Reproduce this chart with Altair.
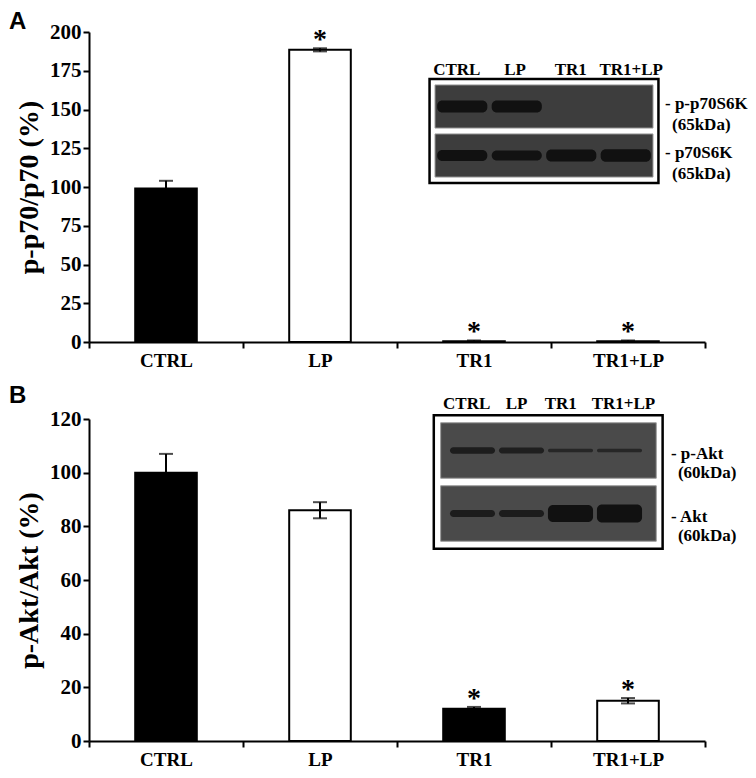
import altair as alt
import pandas as pd

SERIF = "Liberation Serif"
SANS = "Liberation Sans"

groups = ["CTRL", "LP", "TR1", "TR1+LP"]
bar_fill = ["black", "white", "black", "white"]

# Panel A: p-p70/p70 (%)
a_values = [99, 188.5, 0.5, 0.5]
a_errors = [5, 1, 0.5, 0.5]
a_star = [False, True, True, True]

# Panel B: p-Akt/Akt (%)
b_values = [100, 86, 12, 15]
b_errors = [7, 3, 0.7, 1]
b_star = [False, False, True, True]

# Western blot insets: relative band strength per lane
a_blot_rows = ["- p-p70S6K", "- p70S6K"]
a_blot_kda = ["(65kDa)", "(65kDa)"]
a_blot_phos = [1.0, 1.0, 0.0, 0.0]
a_blot_total = [0.9, 0.85, 1.0, 1.05]

b_blot_rows = ["- p-Akt", "- Akt"]
b_blot_kda = ["(60kDa)", "(60kDa)"]
b_blot_phos = [0.55, 0.5, 0.3, 0.3]
b_blot_total = [0.6, 0.6, 1.4, 1.5]


def inset_layers(rows, kda, phos, total, geo):
    xs = alt.Scale(domain=[-0.5, 3.5], range=geo["x_range"], nice=False, zero=False)
    ys = alt.Scale(domain=[0, 2], range=geo["y_range"], nice=False, zero=False)
    u = (geo["y_range"][1] - geo["y_range"][0]) / 2.0

    one = pd.DataFrame({"k": [0]})
    frame = alt.Chart(one).mark_rect(fill="white", stroke="black", strokeWidth=2.5).encode(
        x=alt.XDatum(geo["frame_x"][0], type="quantitative", scale=xs, axis=None),
        x2=alt.X2Datum(geo["frame_x"][1]),
        y=alt.YDatum(-0.06, type="quantitative", scale=ys, axis=None),
        y2=alt.Y2Datum(2.06),
    )

    rdf = pd.DataFrame({"r": [0, 1], "name": rows, "kda": kda})
    gels = alt.Chart(rdf).transform_calculate(
        g0="datum.r + 0.06", g1="datum.r + 0.94"
    ).mark_rect(fill=geo["gel"], stroke="#9a9a9a", strokeWidth=1).encode(
        x=alt.XDatum(geo["gel_x"][0], type="quantitative"),
        x2=alt.X2Datum(geo["gel_x"][1]),
        y=alt.Y("g0:Q"),
        y2="g1:Q",
    )

    bdf = pd.DataFrame({
        "lane": [0, 1, 2, 3, 0, 1, 2, 3],
        "r": [0, 0, 0, 0, 1, 1, 1, 1],
        "s": phos + total,
    })
    k = 6.0 / u
    bands = alt.Chart(bdf).transform_filter("datum.s > 0").transform_calculate(
        xa="datum.lane - 0.46",
        xb="datum.lane + 0.46",
        ya=f"datum.r + 0.5 - datum.s * {k}",
        yb=f"datum.r + 0.5 + datum.s * {k}",
        op="min(1, 0.45 + 0.6 * datum.s)",
    ).mark_rect(fill="#111111", cornerRadius=5).encode(
        x="xa:Q", x2="xb:Q", y="ya:Q", y2="yb:Q",
        opacity=alt.Opacity("op:Q", scale=None, legend=None),
    )

    ldf = pd.DataFrame({"lane": [0, 1, 2, 3], "name": groups, "shift": geo["head_shift"]})
    header = alt.Chart(ldf).transform_calculate(hx="datum.lane + datum.shift").mark_text(
        font=SERIF, fontWeight="bold", fontSize=17, color="black", baseline="middle"
    ).encode(
        x="hx:Q",
        y=alt.YDatum(-0.24, type="quantitative"),
        text="name:N",
    )

    names = alt.Chart(rdf).transform_calculate(yy=f"datum.r + {geo['name_dy']}").mark_text(
        font=SERIF, fontWeight="bold", fontSize=17, color="black", align="left", baseline="middle"
    ).encode(
        x=alt.XDatum(geo["label_x"], type="quantitative"),
        y="yy:Q",
        text="name:N",
    )
    kdas = alt.Chart(rdf).transform_calculate(yy=f"datum.r + {geo['kda_dy']}").mark_text(
        font=SERIF, fontWeight="bold", fontSize=17, color="black", align="left", baseline="middle", dx=7
    ).encode(
        x=alt.XDatum(geo["label_x"], type="quantitative"),
        y="yy:Q",
        text="kda:N",
    )
    return alt.layer(frame, gels, bands, header, names, kdas)


def panel(letter, letter_y, ytitle, values, errors, stars, ymax, ystep, height,
          rows, kda, phos, total, geo):
    df = pd.DataFrame({"group": groups, "value": values, "err": errors, "star": stars})
    df["lo"] = df["value"] - df["err"]
    df["hi"] = df["value"] + df["err"]

    xaxis = alt.Axis(title=None, labelAngle=0, tickBand="extent")
    yaxis = alt.Axis(title=ytitle, values=list(range(0, ymax + 1, ystep)),
                     labelOverlap=False, tickCount=len(range(0, ymax + 1, ystep)))
    yscale = alt.Scale(domain=[0, ymax], nice=False)
    x = alt.X("group:N", sort=groups,
              scale=alt.Scale(domain=groups, paddingInner=0, paddingOuter=0), axis=xaxis)
    xo = alt.X("group:N", sort=groups, axis=xaxis)
    base = alt.Chart(df)
    bars = base.mark_bar(width=alt.RelativeBandSize(0.4), stroke="black", strokeWidth=2).encode(
        x=x, y=alt.Y("value:Q", scale=yscale, axis=yaxis),
        fill=alt.Fill("group:N", scale=alt.Scale(domain=groups, range=bar_fill), legend=None),
    )
    rule = base.mark_rule(color="black", strokeWidth=2).encode(
        x=xo, y=alt.Y("lo:Q", axis=yaxis), y2="hi:Q"
    )
    caps = base.transform_fold(["lo", "hi"], as_=["end", "yv"]).mark_tick(
        color="black", thickness=2, size=14
    ).encode(x=xo, y=alt.Y("yv:Q", axis=yaxis))
    star = base.transform_filter("datum.star").mark_text(
        text="*", font=SERIF, fontWeight="bold", fontSize=28, color="black", baseline="alphabetic"
    ).encode(x=xo, y=alt.Y("hi:Q", axis=yaxis))
    tag = alt.Chart(pd.DataFrame({"t": [letter]})).mark_text(
        font=SANS, fontSize=24, fontWeight="bold", color="black", align="left", baseline="top"
    ).encode(text="t:N", x=alt.value(-80), y=alt.value(letter_y))

    main = alt.layer(bars, rule, caps, star, tag)
    ins = inset_layers(rows, kda, phos, total, geo)
    return alt.layer(main, ins).resolve_scale(x="independent", y="independent").properties(
        width=616, height=height
    )


geo_a = {"x_range": [346, 564], "y_range": [50, 148], "gel_x": [-0.5, 3.5],
         "frame_x": [-0.6, 3.6], "label_x": 3.72, "gel": "#3d3d3d",
         "head_shift": [-0.1, -0.03, -0.01, 0.1], "name_dy": 0.45, "kda_dy": 0.88}
geo_b = {"x_range": [359, 555], "y_range": [0, 126], "gel_x": [-0.65, 3.75],
         "frame_x": [-0.79, 3.88], "label_x": 4.05, "gel": "#4a4a4a",
         "head_shift": [-0.12, -0.1, -0.2, 0.08], "name_dy": 0.55, "kda_dy": 0.86}

pa = panel("A", -22, "p-p70/p70 (%)", a_values, a_errors, a_star, 200, 25, 310,
           a_blot_rows, a_blot_kda, a_blot_phos, a_blot_total, geo_a)
pb = panel("B", -35, "p-Akt/Akt (%)", b_values, b_errors, b_star, 120, 20, 322,
           b_blot_rows, b_blot_kda, b_blot_phos, b_blot_total, geo_b)

chart = alt.vconcat(pa, pb, spacing=14).properties(
    padding={"top": 2, "left": 1, "right": 0, "bottom": 0}
).configure_view(stroke=None).configure_axis(
    labelFont=SERIF, labelFontWeight="bold", labelColor="black",
    tickColor="black", tickWidth=2, tickSize=6,
    domainColor="black", domainWidth=2, grid=False,
    titleFont=SERIF, titleFontWeight="bold", titleFontSize=28, titleColor="black",
).configure_axisX(
    labelFontSize=19, labelPadding=3,
).configure_axisY(
    labelFontSize=21, labelPadding=2, titlePadding=6, labelOverlap=False,
)

chart.save("out.html", embed_options={"renderer": "svg", "actions": False})
